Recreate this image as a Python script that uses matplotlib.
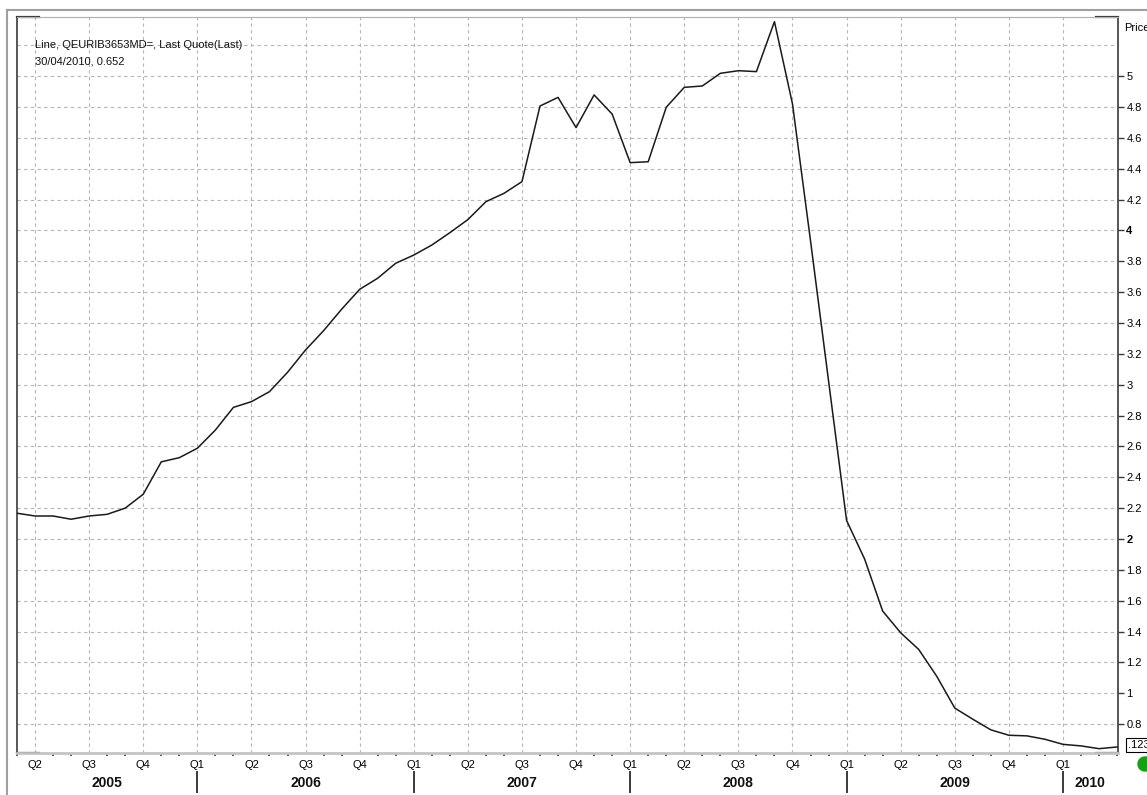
"""Wykres stopy QEURIB3653MD= (dane miesięczne 2005-2010) w stylu Reuters."""

import matplotlib.pyplot as plt
import matplotlib.transforms as mtransforms
import pandas as pd
from matplotlib.lines import Line2D
from matplotlib.patches import Ellipse

plt.rcParams["font.family"] = ["Liberation Sans", "DejaVu Sans"]

# dane (koniec miesiąca)
months = pd.period_range("2005-03", "2010-04", freq="M")
rate = [
    2.167, 2.149, 2.149, 2.128, 2.149, 2.160, 2.200, 2.290, 2.500, 2.527,
    2.588, 2.706, 2.853, 2.890, 2.955, 3.080, 3.225, 3.350, 3.489, 3.618,
    3.690, 3.787, 3.840, 3.905, 3.985, 4.070, 4.186, 4.240, 4.316, 4.806,
    4.862, 4.666, 4.878, 4.754, 4.439, 4.445, 4.798, 4.927, 4.936, 5.018,
    5.035, 5.029, 5.353, 4.820, 3.933, 3.025, 2.120, 1.870, 1.533, 1.392,
    1.284, 1.110, 0.904, 0.832, 0.763, 0.728, 0.724, 0.702, 0.669, 0.659,
    0.641, 0.652,
]
price_ticks = [0.8, 1.0, 1.2, 1.4, 1.6, 1.8, 2.0, 2.2, 2.4, 2.6, 2.8, 3.0,
               3.2, 3.4, 3.6, 3.8, 4.0, 4.2, 4.4, 4.6, 4.8, 5.0]
bold_ticks = [2.0, 4.0]
legend_lines = ["Line, QEURIB3653MD=, Last Quote(Last)", "30/04/2010, 0.652"]

W, H = 1147, 795
GRID = "#b4b4c2"
DARK = "#3a3a3a"

fig = plt.figure(figsize=(W / 100, H / 100), dpi=100)
ax = fig.add_axes([17 / W, 1 - 753 / H, (1118 - 17) / W, (753 - 17) / H])

x = list(range(len(months)))
ax.plot(x, rate, color="#1a1a1a", lw=1.1, zorder=3)
ax.set_xlim(0, 61.05)
ax.set_ylim(0.613, 5.383)

# oś X: kwartały + miesiące (ostatni miesiąc leży na krawędzi, bez etykiety)
q_pos = [i for i, m in enumerate(months[:-1]) if m.month in (1, 4, 7, 10)]
q_lab = [f"Q{(months[i].month - 1) // 3 + 1}" for i in q_pos]
minor_pos = [i for i in x if i not in q_pos]
ax.set_xticks(q_pos)
ax.set_xticklabels(q_lab)
ax.set_xticks(minor_pos, minor=True)
ax.tick_params(axis="x", which="major", length=0, pad=5, labelsize=8)
ax.tick_params(axis="x", which="minor", length=2.5, width=1.2, color=DARK,
               direction="out")

# oś Y po prawej
ax.yaxis.tick_right()
ax.set_yticks(price_ticks)
labels = ax.set_yticklabels([f"{v:g}" for v in price_ticks])
for v, t in zip(price_ticks, labels):
    if v in bold_ticks:
        t.set_fontweight("bold")
        t.set_fontsize(9.5)
ax.tick_params(axis="y", length=4, width=1, color=DARK, pad=2, labelsize=8)

ax.grid(True, which="major", color=GRID, linestyle=(0, (3, 3)), linewidth=0.8)
ax.axhline(5.2, color=GRID, linestyle=(0, (3, 3)), linewidth=0.8)
ax.set_axisbelow(True)

for side in ("left", "right"):
    ax.spines[side].set_color(DARK)
    ax.spines[side].set_linewidth(1.2)
ax.spines["top"].set_color("#b0b0b0")
ax.spines["bottom"].set_color("#c4c4c4")
ax.spines["bottom"].set_linewidth(2)

# ciemne odcinki w rogach ramki
seg = 22 / (1118 - 17)
for xs, ys in (([0, seg], [1, 1]), ([0, seg], [0, 0]),
               ([1 - seg, 1], [1, 1]), ([1 - seg, 1], [0, 0])):
    ax.plot(xs, ys, transform=ax.transAxes, color=DARK, lw=1.6, clip_on=False)

# lata pod osią
blend = mtransforms.blended_transform_factory(ax.transData, fig.transFigure)
for yr in sorted(set(m.year for m in months)):
    idx = [i for i, m in enumerate(months) if m.year == yr]
    if yr == months[-1].year:
        centre = (idx[0] + idx[-1]) / 2
    else:
        centre = (idx[0] + idx[-1] + 1) / 2
    ax.text(centre, 1 - 783 / H, str(yr), transform=blend, ha="center",
            va="center", fontsize=10, fontweight="bold", color="#111111")
    if months[idx[0]].month == 1:
        ax.plot([idx[0], idx[0]], [1 - 772 / H, 1 - 792 / H], transform=blend,
                color=DARK, lw=1.4, clip_on=False)

# opis serii
for k, line in enumerate(legend_lines):
    fig.text(35 / W, 1 - (45 + 17 * k) / H, line, fontsize=8, va="center",
             color="#111111")

fig.text(1124 / W, 1 - 28 / H, "Price", fontsize=8, va="center")
fig.text(1128 / W, 1 - 745 / H, ".123", fontsize=8, va="center",
         bbox=dict(boxstyle="square,pad=0.15", fc="white", ec="black", lw=0.8))
fig.add_artist(Ellipse((1145 / W, 1 - 764 / H), 14 / W, 14 / H,
                       transform=fig.transFigure, color="#14a014"))

# zewnętrzna ramka
fig.add_artist(Line2D([7 / W, 7 / W], [0, 1 - 10 / H], color="#a0a0a0", lw=1.5))
fig.add_artist(Line2D([7 / W, 1], [1 - 10 / H, 1 - 10 / H], color="#a0a0a0", lw=1.5))

fig.savefig("out.png", dpi=100)
